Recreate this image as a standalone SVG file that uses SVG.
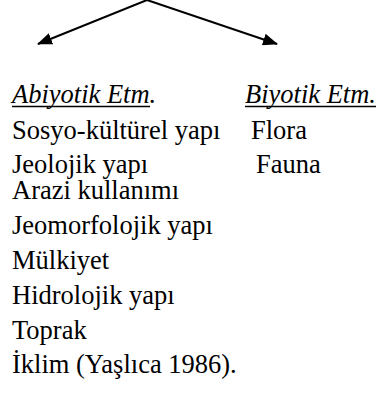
<svg xmlns="http://www.w3.org/2000/svg" width="377" height="410" viewBox="0 0 377 410">
<style>
.t{font-family:"Liberation Serif","Times New Roman",serif;font-size:26.5px;fill:#000}
.i{font-style:italic}
.c{stroke:#000;stroke-width:2;fill:none}
.u{stroke:#000;stroke-width:1.3}
</style>
<defs>
<marker id="ah" viewBox="0 0 15 12" refX="14" refY="6" markerWidth="15" markerHeight="12" markerUnits="userSpaceOnUse" orient="auto">
<path d="M0,0 L15,6 L0,12 Z" fill="#000"/>
</marker>
</defs>
<rect width="377" height="410" fill="#fff"/>
<g id="connectors">
<line class="c" x1="147" y1="0" x2="38" y2="44" marker-end="url(#ah)"/>
<line class="c" x1="147" y1="0" x2="277" y2="44" marker-end="url(#ah)"/>
</g>
<g id="abiyotik">
<text class="t i" x="12" y="103">Abiyotik Etm.</text>
<line class="u" x1="12" y1="106.5" x2="150" y2="106.5"/>
<text class="t" x="12" y="139">Sosyo-kültürel yapı</text>
<text class="t" x="12" y="172.5">Jeolojik yapı</text>
<text class="t" x="12" y="198.5">Arazi kullanımı</text>
<text class="t" x="12" y="234">Jeomorfolojik yapı</text>
<text class="t" x="12" y="269">Mülkiyet</text>
<text class="t" x="12" y="304">Hidrolojik yapı</text>
<text class="t" x="12" y="339">Toprak</text>
<text class="t" x="12" y="373">İklim (Yaşlıca 1986).</text>
</g>
<g id="biyotik">
<text class="t i" x="245" y="103">Biyotik Etm.</text>
<line class="u" x1="245" y1="106.5" x2="376" y2="106.5"/>
<text class="t" x="251" y="139">Flora</text>
<text class="t" x="256" y="172.5">Fauna</text>
</g>
</svg>
